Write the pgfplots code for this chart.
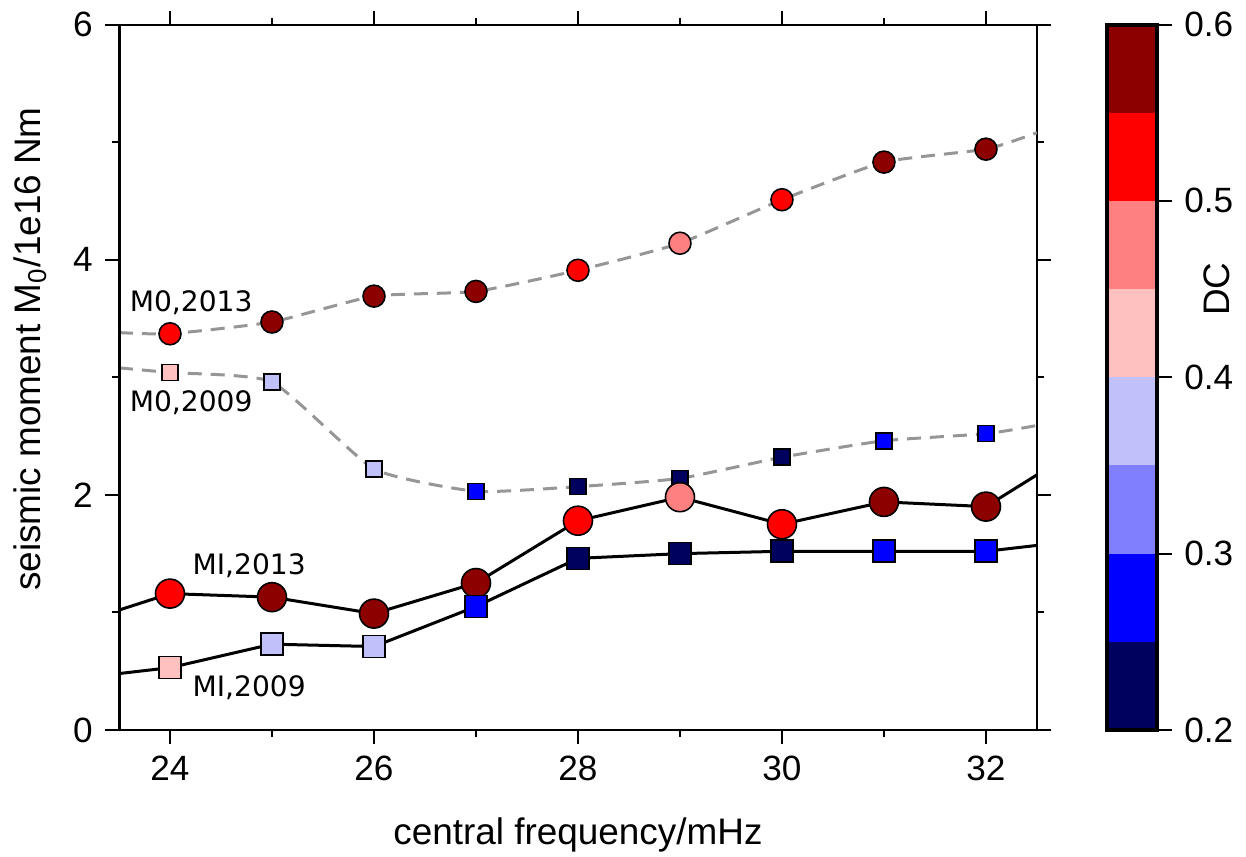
\documentclass[border=0pt]{standalone}
\usepackage{pgfplots}
\usepackage{pgfplotstable}
\pgfplotsset{compat=1.18}
\usepackage{fontspec}
\setmainfont{Liberation Sans}
\newfontfamily\dejavu{DejaVu Sans}
\definecolor{dc1}{RGB}{0,0,95}
\definecolor{dc2}{RGB}{0,0,255}
\definecolor{dc3}{RGB}{128,128,255}
\definecolor{dc4}{RGB}{192,192,250}
\definecolor{dc5}{RGB}{255,192,192}
\definecolor{dc6}{RGB}{255,128,128}
\definecolor{dc7}{RGB}{255,0,0}
\definecolor{dc8}{RGB}{140,0,0}
\definecolor{dashgray}{RGB}{150,150,150}

% marker data: x, moment, DC class (a: 0.20-0.25 ... h: 0.55-0.60)
\pgfplotstableread{
x y c
24 3.37 g
25 3.47 h
26 3.69 h
27 3.73 h
28 3.91 g
29 4.14 f
30 4.51 g
31 4.83 h
32 4.94 h
}\MzeroA
\pgfplotstableread{
x y c
24 3.04 e
25 2.96 d
26 2.22 d
27 2.03 b
28 2.07 a
29 2.14 a
30 2.32 a
31 2.46 b
32 2.52 b
}\MzeroB
\pgfplotstableread{
x y c
24 1.16 g
25 1.13 h
26 0.99 h
27 1.25 h
28 1.78 g
29 1.98 f
30 1.75 g
31 1.94 h
32 1.90 h
}\MIA
\pgfplotstableread{
x y c
24 0.53 e
25 0.73 d
26 0.71 d
27 1.05 b
28 1.46 a
29 1.50 a
30 1.52 a
31 1.52 b
32 1.52 b
}\MIB

\pgfplotsset{dcclasses/.style={scatter, only marks, scatter src=explicit symbolic,
  scatter/classes={a={fill=dc1},b={fill=dc2},c={fill=dc3},d={fill=dc4},
                   e={fill=dc5},f={fill=dc6},g={fill=dc7},h={fill=dc8}}}}

\begin{document}
\begin{tikzpicture}
\useasboundingbox (-11.9mm,-12.6mm) rectangle (112.7mm,73.0mm);
\begin{axis}[
  at={(0,0)}, anchor=south west,
  scale only axis, width=91.8mm, height=70.55mm,
  xmin=23.5, xmax=32.5, ymin=0, ymax=6,
  xtick={24,26,...,32}, minor xtick={25,27,29,31},
  ytick={0,2,4,6}, minor ytick={1,3,5},
  tick align=outside, major tick length=1.4mm, minor tick length=0.7mm,
  tick style={black, line width=0.2mm},
  axis line style={line width=0.2mm},
  ticklabel style={font=\fontsize{10}{12}\selectfont},
  /pgf/number format/assume math mode=true,
  xlabel={central frequency/mHz},
  ylabel={seismic moment M\textsubscript{0}/1e16 Nm},
  label style={font=\fontsize{10.5}{12}\selectfont},
  xlabel style={at={(axis description cs:0.5,-0.149)},anchor=center},
  ylabel style={at={(axis description cs:-0.097,0.54)},anchor=center},
]
% lines
\addplot[dashgray, line width=0.3mm, dash pattern=on 1.4mm off 0.9mm, smooth, tension=0.3] coordinates {
 (23.5,3.38) (24,3.37) (25,3.47) (26,3.69) (27,3.73) (28,3.91) (29,4.14) (30,4.51) (31,4.83) (32,4.94) (32.5,5.08)};
\addplot[dashgray, line width=0.3mm, dash pattern=on 1.4mm off 0.9mm, smooth, tension=0.3] coordinates {
 (23.5,3.08) (24,3.04) (25,2.96) (26,2.22) (27,2.03) (28,2.07) (29,2.14) (30,2.32) (31,2.46) (32,2.52) (32.5,2.59)};
\addplot[black, line width=0.3mm] coordinates {
 (23.5,1.02) (24,1.16) (25,1.13) (26,0.99) (27,1.25) (28,1.78) (29,1.98) (30,1.75) (31,1.94) (32,1.90) (32.5,2.17)};
\addplot[black, line width=0.3mm] coordinates {
 (23.5,0.48) (24,0.53) (25,0.73) (26,0.71) (27,1.05) (28,1.46) (29,1.50) (30,1.52) (31,1.52) (32,1.52) (32.5,1.57)};
% markers
\addplot[dcclasses, mark=*, mark size=1.1mm, mark options={draw=black, line width=0.45pt}] table[x=x,y=y,meta=c]{\MzeroA};
\addplot[dcclasses, mark=square*, mark size=0.8mm, mark options={draw=black, line width=0.45pt}] table[x=x,y=y,meta=c]{\MzeroB};
\addplot[dcclasses, mark=*, mark size=1.45mm, mark options={draw=black, line width=0.45pt}] table[x=x,y=y,meta=c]{\MIA};
\addplot[dcclasses, mark=square*, mark size=1.1mm, mark options={draw=black, line width=0.45pt}] table[x=x,y=y,meta=c]{\MIB};
% labels
\node[font=\dejavu\fontsize{8}{9}\selectfont] at (axis cs:24.207,3.63) {M0,2013};
\node[font=\dejavu\fontsize{8}{9}\selectfont] at (axis cs:24.207,2.78) {M0,2009};
\node[font=\dejavu\fontsize{8}{9}\selectfont] at (axis cs:24.776,1.40) {MI,2013};
\node[font=\dejavu\fontsize{8}{9}\selectfont] at (axis cs:24.776,0.36) {MI,2009};
\draw[line width=0.4mm] (rel axis cs:0,0) -- (rel axis cs:0,1);
\draw[line width=0.3mm] (rel axis cs:0,0) -- (rel axis cs:1,0);
\end{axis}
% colour bar
\begin{axis}[
  at={(98.8mm,0)}, anchor=south west,
  scale only axis, width=5mm, height=70.55mm,
  xmin=0, xmax=1, ymin=0.2, ymax=0.6,
  xtick=\empty, ytick={0.2,0.3,0.4,0.5,0.6},
  ytick pos=right, yticklabel pos=right,
  tick align=outside, major tick length=1.5mm,
  tick style={black, line width=0.2mm},
  axis line style={line width=0.4mm},
  axis on top,
  ticklabel style={font=\fontsize{10}{12}\selectfont},
  /pgf/number format/assume math mode=true,
  yticklabel style={/pgf/number format/fixed, /pgf/number format/fixed zerofill, /pgf/number format/precision=1},
  ylabel={DC},
  ylabel style={font=\fontsize{10.5}{12}\selectfont, at={(rel axis cs:2.2,0.625)}, anchor=center},
]
\addplot[fill=dc1, draw=none] coordinates {(0,0.20) (1,0.20) (1,0.25) (0,0.25)} -- cycle;
\addplot[fill=dc2, draw=none] coordinates {(0,0.25) (1,0.25) (1,0.30) (0,0.30)} -- cycle;
\addplot[fill=dc3, draw=none] coordinates {(0,0.30) (1,0.30) (1,0.35) (0,0.35)} -- cycle;
\addplot[fill=dc4, draw=none] coordinates {(0,0.35) (1,0.35) (1,0.40) (0,0.40)} -- cycle;
\addplot[fill=dc5, draw=none] coordinates {(0,0.40) (1,0.40) (1,0.45) (0,0.45)} -- cycle;
\addplot[fill=dc6, draw=none] coordinates {(0,0.45) (1,0.45) (1,0.50) (0,0.50)} -- cycle;
\addplot[fill=dc7, draw=none] coordinates {(0,0.50) (1,0.50) (1,0.55) (0,0.55)} -- cycle;
\addplot[fill=dc8, draw=none] coordinates {(0,0.55) (1,0.55) (1,0.60) (0,0.60)} -- cycle;
\end{axis}
\end{tikzpicture}
\end{document}
